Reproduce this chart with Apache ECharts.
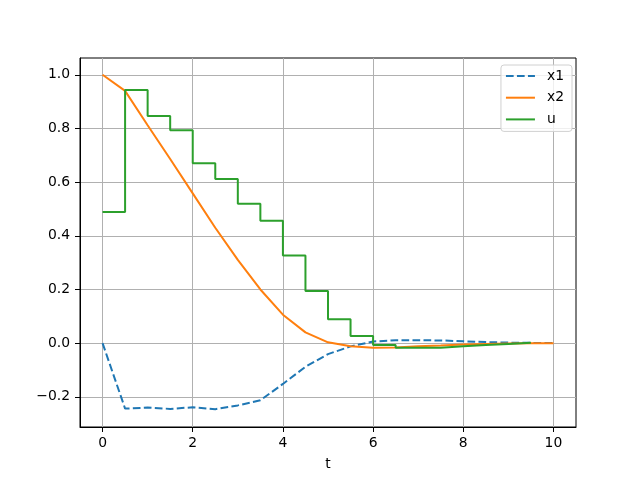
<!DOCTYPE html>
<html>
<head>
<meta charset="utf-8">
<script src="https://cdn.jsdelivr.net/npm/echarts@6/dist/echarts.min.js"></script>
<style>
  html, body { margin: 0; padding: 0; background: #fff; }
  #chart { width: 640px; height: 480px; }
</style>
</head>
<body>
<div id="chart"></div>
<script>
// time samples
const t = [0, 0.5, 1, 1.5, 2, 2.5, 3, 3.5, 4, 4.5, 5, 5.5, 6, 6.5, 7, 7.5, 8, 8.5, 9, 9.5, 10]
// states
const x1 = [0, -0.244, -0.240, -0.245, -0.239, -0.246, -0.232, -0.213, -0.152, -0.088, -0.041,
  -0.012, 0.006, 0.011, 0.011, 0.010, 0.007, 0.004, 0.002, 0.001, 0.0]
const x2 = [1.0, 0.94, 0.812, 0.686, 0.558, 0.43, 0.31, 0.2, 0.106, 0.04, 0.003,
  -0.012, -0.017, -0.016, -0.012, -0.009, -0.005, -0.003, -0.001, 0.0, 0.0]
// control (held until next sample)
const u = [0.489, 0.943, 0.846, 0.793, 0.670, 0.612, 0.519, 0.456, 0.327, 0.194, 0.089,
  0.027, -0.007, -0.017, -0.017, -0.012, -0.007, -0.003, 0.001, 0.001]
// tick labels
const xTicks = [0, 2, 4, 6, 8, 10]
const yTicks = [-0.2, 0, 0.2, 0.4, 0.6, 0.8, 1.0]

const font = 'DejaVu Sans'
const myChart = echarts.init(document.getElementById('chart'))

const pairs = (ys) => ys.map((v, i) => [t[i], v])

const option = {
  animation: false,
  grid: {
    left: 80,
    right: 64,
    top: 58,
    bottom: 53,
    show: true,
    borderColor: '#000',
    borderWidth: 1
  },
  legend: {
    orient: 'vertical',
    right: 68,
    top: 65,
    padding: [4, 8, 5, 4],
    itemWidth: 29,
    itemHeight: 14,
    itemGap: 7.7,
    backgroundColor: 'rgba(255,255,255,0.8)',
    borderColor: '#d0d0d0',
    borderWidth: 1,
    borderRadius: 3,
    itemStyle: { opacity: 0 }, // only the line in the legend, no marker
    textStyle: { fontFamily: font, fontSize: 13.9, color: '#000', padding: [0, 0, 0, 7] },
    data: ['x1', 'x2', 'u']
  },
  xAxis: {
    type: 'value',
    min: -0.5,
    max: 10.5,
    name: 't',
    nameLocation: 'middle',
    nameGap: 30,
    nameTextStyle: { fontFamily: font, fontSize: 13.9, color: '#000' },
    axisLine: { show: true, onZero: false, lineStyle: { color: '#000', width: 1 } },
    axisTick: { show: true, length: 5, customValues: xTicks, lineStyle: { color: '#000' } },
    axisLabel: {
      customValues: xTicks,
      margin: 9,
      fontFamily: font,
      fontSize: 13.9,
      color: '#000',
      formatter: (v) => String(v)
    },
    splitLine: { show: true, lineStyle: { color: '#b0b0b0', width: 1 } }
  },
  yAxis: {
    type: 'value',
    min: -0.3125,
    max: 1.0625,
    axisLine: { show: true, onZero: false, lineStyle: { color: '#000', width: 1 } },
    axisTick: { show: true, length: 5, customValues: yTicks, lineStyle: { color: '#000' } },
    axisLabel: {
      customValues: yTicks,
      margin: 10,
      fontFamily: font,
      fontSize: 13.9,
      color: '#000',
      formatter: (v) => v.toFixed(1).replace('-', '\u2212')
    },
    splitLine: { show: true, lineStyle: { color: '#b0b0b0', width: 1 } }
  },
  series: [
    {
      name: 'x1',
      type: 'line',
      data: pairs(x1),
      showSymbol: false,
      color: '#1f77b4',
      lineStyle: { color: '#1f77b4', width: 2, type: [7.7, 3.3] }
    },
    {
      name: 'x2',
      type: 'line',
      data: pairs(x2),
      showSymbol: false,
      color: '#ff7f0e',
      lineStyle: { color: '#ff7f0e', width: 2 }
    },
    {
      name: 'u',
      type: 'line',
      step: 'end',
      data: pairs(u),
      showSymbol: false,
      color: '#2ca02c',
      lineStyle: { color: '#2ca02c', width: 2 }
    }
  ]
}
myChart.setOption(option)
</script>
</body>
</html>
